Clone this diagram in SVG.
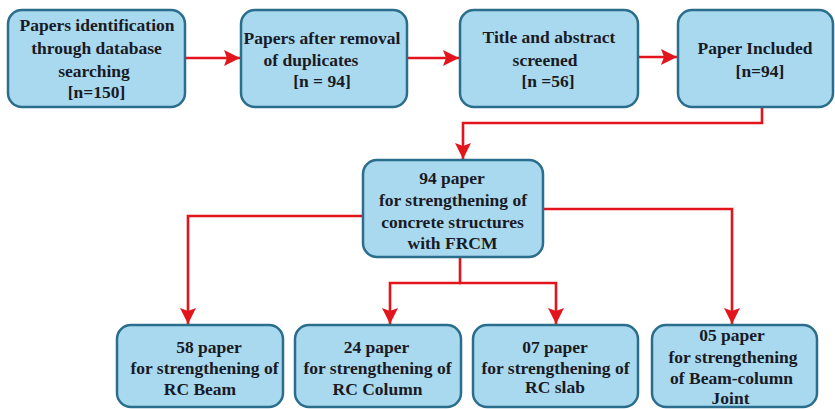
<svg xmlns="http://www.w3.org/2000/svg" width="835" height="409" viewBox="0 0 835 409">
<defs>
<style>
.box{fill:#a9d9ef;stroke:#2a6d8c;stroke-width:2.5}
.t{font-family:"Liberation Serif","Times New Roman",serif;font-weight:bold;font-size:17.5px;fill:#1a1a24;text-anchor:middle}
.c{fill:none;stroke:#e3151c;stroke-width:2.6}
</style>
<marker id="ah" markerUnits="userSpaceOnUse" markerWidth="16" markerHeight="16" viewBox="0 0 16 16" refX="16" refY="8" orient="auto">
<path d="M0,0 L16,8 L0,16 L3,8 z" fill="#e3151c"/>
</marker>
</defs>
<rect width="835" height="409" fill="#ffffff"/>
<g id="connectors">
<path class="c" d="M185,58 H240" marker-end="url(#ah)"/>
<path class="c" d="M407,58 H459" marker-end="url(#ah)"/>
<path class="c" d="M638,57 H677" marker-end="url(#ah)"/>
<path class="c" d="M762,107 V123 H463 V159" marker-end="url(#ah)"/>
<path class="c" d="M363,216 H188 V324" marker-end="url(#ah)"/>
<path class="c" d="M543,209 H732 V324" marker-end="url(#ah)"/>
<path class="c" d="M460,257 V283 H390 V324" marker-end="url(#ah)"/>
<path class="c" d="M459,283 H556 V324" marker-end="url(#ah)"/>
</g>
<g id="n1">
<rect class="box" x="8" y="10" width="177" height="97" rx="14"/>
<text class="t"><tspan x="97" y="31">Papers identification</tspan><tspan x="96.5" y="54">through database</tspan><tspan x="94" y="77">searching</tspan><tspan x="96.5" y="98">[n=150]</tspan></text>
</g>
<g id="n2">
<rect class="box" x="241" y="10" width="166" height="97" rx="14"/>
<text class="t"><tspan x="322" y="44">Papers after removal</tspan><tspan x="311" y="66">of duplicates</tspan><tspan x="322" y="87">[n = 94]</tspan></text>
</g>
<g id="n3">
<rect class="box" x="460" y="10" width="178" height="97" rx="14"/>
<text class="t"><tspan x="549" y="43">Title and abstract</tspan><tspan x="545" y="66">screened</tspan><tspan x="548" y="87">[n =56]</tspan></text>
</g>
<g id="n4">
<rect class="box" x="678" y="10" width="155" height="97" rx="14"/>
<text class="t"><tspan x="755" y="54">Paper Included</tspan><tspan x="760" y="77">[n=94]</tspan></text>
</g>
<g id="n5">
<rect class="box" x="363" y="160" width="180" height="97" rx="14"/>
<text class="t"><tspan x="452" y="184">94 paper</tspan><tspan x="453" y="206">for strengthening of</tspan><tspan x="452.5" y="228">concrete structures</tspan><tspan x="452.5" y="249">with FRCM</tspan></text>
</g>
<g id="n6">
<rect class="box" x="117" y="325" width="166" height="82" rx="14"/>
<text class="t"><tspan x="209" y="353">58 paper</tspan><tspan x="204.5" y="374">for strengthening of</tspan><tspan x="200" y="395">RC Beam</tspan></text>
</g>
<g id="n7">
<rect class="box" x="295" y="325" width="166" height="82" rx="14"/>
<text class="t"><tspan x="376.5" y="353">24 paper</tspan><tspan x="377.5" y="374">for strengthening of</tspan><tspan x="377.5" y="395">RC Column</tspan></text>
</g>
<g id="n8">
<rect class="box" x="473" y="325" width="165" height="82" rx="14"/>
<text class="t"><tspan x="555" y="353">07 paper</tspan><tspan x="555.5" y="374">for strengthening of</tspan><tspan x="555" y="393">RC slab</tspan></text>
</g>
<g id="n9">
<rect class="box" x="652" y="325" width="165" height="82" rx="14"/>
<text class="t"><tspan x="732" y="341">05 paper</tspan><tspan x="733" y="363">for strengthening</tspan><tspan x="731.5" y="384">of Beam-column</tspan><tspan x="730.5" y="404">Joint</tspan></text>
</g>
</svg>
